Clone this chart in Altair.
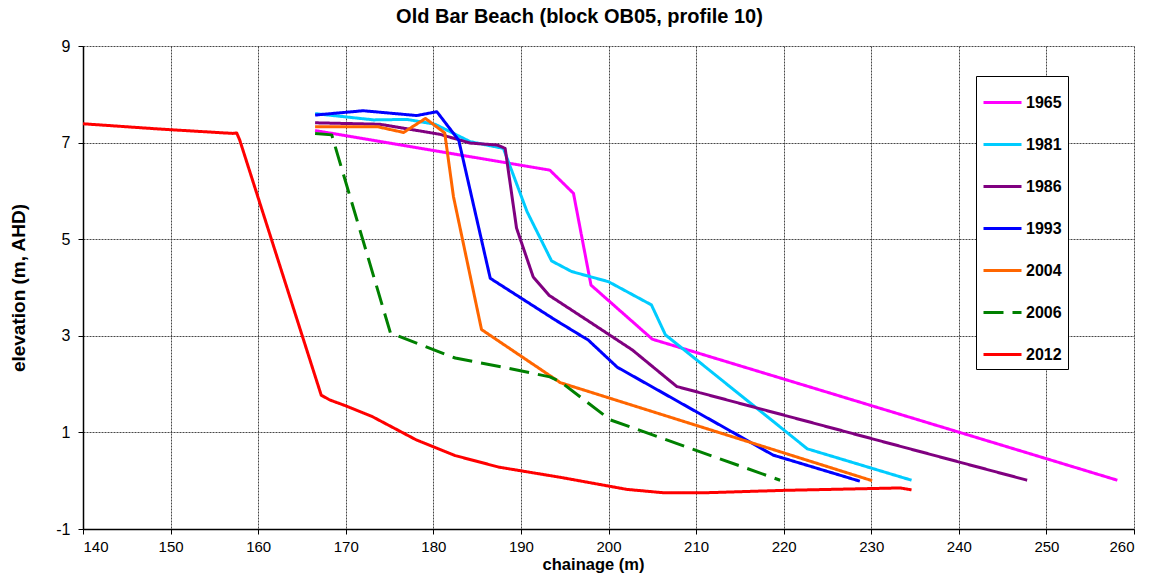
import altair as alt
import pandas as pd

years = ["1965", "1981", "1986", "1993", "2004", "2006", "2012"]
colors = ["#FF00FF", "#00CCFF", "#800080", "#0000FF", "#FF6600", "#008000", "#FF0000"]

x_1965 = [166.5, 193.3, 196.0, 198.0, 205.0, 258.1]
y_1965 = [7.25, 6.43, 5.95, 4.05, 2.93, 0.01]

x_1981 = [166.5, 173.2, 177.0, 180.2, 184.2, 185.0, 188.0, 190.7, 193.5, 195.8, 200.0, 204.9, 206.5, 222.7, 234.6]
y_1981 = [7.60, 7.47, 7.48, 7.38, 7.02, 6.99, 6.88, 5.57, 4.55, 4.33, 4.12, 3.64, 3.02, 0.66, 0.01]

x_1986 = [166.5, 173.9, 180.8, 184.2, 187.3, 188.2, 189.5, 191.4, 193.2, 197.5, 202.7, 207.8, 247.8]
y_1986 = [7.41, 7.38, 7.17, 6.99, 6.95, 6.88, 5.23, 4.22, 3.84, 3.33, 2.71, 1.95, 0.01]

x_1993 = [166.5, 172.0, 178.1, 180.4, 182.9, 186.5, 193.9, 197.7, 201.0, 218.8, 228.7]
y_1993 = [7.57, 7.66, 7.56, 7.64, 7.05, 4.19, 3.33, 2.91, 2.35, 0.53, -0.01]

x_2004 = [166.5, 173.6, 176.6, 179.1, 181.3, 182.3, 185.5, 194.5, 230.1]
y_2004 = [7.33, 7.33, 7.21, 7.50, 7.20, 5.88, 3.13, 2.03, 0.00]

x_2006 = [166.5, 168.4, 175.1, 178.5, 182.5, 188.0, 193.3, 194.5, 200.2, 219.6]
y_2006 = [7.19, 7.16, 3.06, 2.82, 2.54, 2.35, 2.15, 2.05, 1.26, 0.01]

x_2012 = [140.0, 148.8, 157.1, 157.55, 157.9, 167.2, 168.2, 170.0, 173.0, 178.0, 182.5, 187.5,
          194.5, 202.1, 206.3, 211.0, 220.0, 233.3, 234.6]
y_2012 = [7.39, 7.28, 7.19, 7.20, 7.05, 1.77, 1.67, 1.55, 1.33, 0.85, 0.52, 0.28,
          0.07, -0.18, -0.25, -0.25, -0.20, -0.15, -0.19]

x_ticks = list(range(140, 261, 10))
y_ticks = [-1, 1, 3, 5, 7, 9]

series = {
    "1965": (x_1965, y_1965),
    "1981": (x_1981, y_1981),
    "1986": (x_1986, y_1986),
    "1993": (x_1993, y_1993),
    "2004": (x_2004, y_2004),
    "2006": (x_2006, y_2006),
    "2012": (x_2012, y_2012),
}

rows = []
for yr in years:
    xs, ys = series[yr]
    for i, (xv, yv) in enumerate(zip(xs, ys)):
        rows.append({"year": yr, "chainage": xv, "elevation": yv, "i": i})
df = pd.DataFrame(rows)

FONT = "Liberation Sans"

legend = alt.Legend(
    title=None,
    orient="none",
    legendX=893,
    legendY=30,
    symbolType="stroke",
    symbolSize=1444,
    symbolStrokeWidth=3,
    labelFont=FONT,
    labelFontSize=16,
    labelFontWeight="bold",
    labelColor="black",
    labelOffset=3,
    strokeColor="black",
    fillColor="white",
    padding=6,
    rowPadding=13,
)

dash_range = [[1, 0], [1, 0], [1, 0], [1, 0], [1, 0], [20, 9], [1, 0]]

chart = alt.Chart(df).mark_line(strokeWidth=3, strokeJoin="round").encode(
    x=alt.X(
        "chainage:Q",
        scale=alt.Scale(domain=[140, 260], nice=False),
        axis=alt.Axis(values=x_ticks, title="chainage (m)", titleX=510, titleY=35,
                      titleBaseline="middle", titleFontSize=16.5, labelPadding=5,
                      labelFontSize=15, labelExpr="'' + datum.value"),
    ),
    y=alt.Y(
        "elevation:Q",
        scale=alt.Scale(domain=[-1, 9], nice=False),
        axis=alt.Axis(values=y_ticks, title="elevation (m, AHD)", titleX=-65, titleY=241.5,
                      titleBaseline="middle", titleFontSize=19, labelPadding=8,
                      labelFontSize=16, labelExpr="'' + datum.value"),
    ),
    color=alt.Color("year:N", scale=alt.Scale(domain=years, range=colors), legend=legend),
    strokeDash=alt.StrokeDash("year:N", scale=alt.Scale(domain=years, range=dash_range), legend=legend),
    order=alt.Order("i:Q"),
).properties(
    width=1051,
    height=483,
    title=alt.TitleParams(
        "Old Bar Beach (block OB05, profile 10)",
        font=FONT, fontSize=20, fontWeight="bold", color="black",
        anchor="middle", dx=-29, dy=25, offset=16, baseline="bottom",
    ),
    autosize=alt.AutoSizeParams(type="none"),
    padding={"left": 83, "top": 46, "right": 22, "bottom": 47},
).configure_view(
    stroke=None
).configure_axis(
    domainColor="black",
    domainWidth=1.5,
    tickColor="black",
    tickSize=5,
    tickWidth=1,
    labelFont=FONT,
    labelColor="black",
    titleFont=FONT,
    titleFontWeight="bold",
    titleColor="black",
    gridColor="#333333",
    gridDash=[2, 1],
    gridWidth=1,
    gridOpacity=0.9,
)

chart.save("out.html", embed_options={"renderer": "svg", "actions": False})
